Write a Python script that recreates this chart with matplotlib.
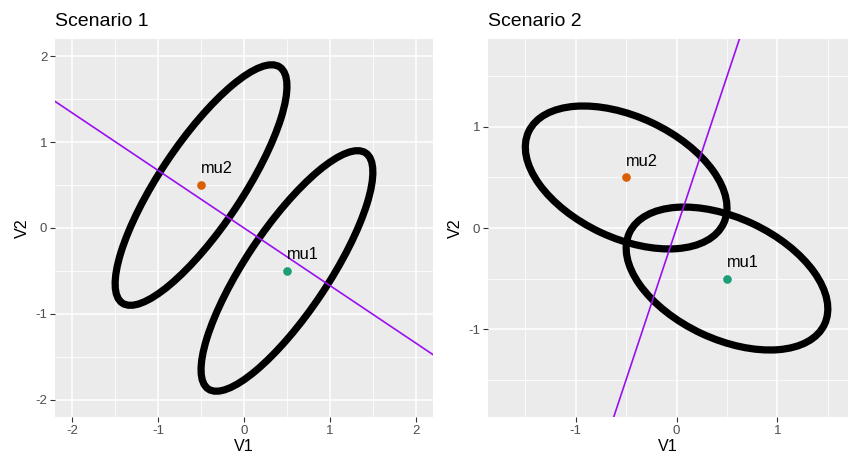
import matplotlib
matplotlib.use("Agg")
import matplotlib.pyplot as plt
import numpy as np
from matplotlib.patches import Ellipse

plt.rcParams["font.family"] = ["Liberation Sans", "DejaVu Sans"]
plt.rcParams["axes.unicode_minus"] = False

# data
titles = ["Scenario 1", "Scenario 2"]
mu1 = [0.5, -0.5]
mu2 = [-0.5, 0.5]
point_labels = ["mu1", "mu2"]
point_colors = ["#1B9E77", "#D95F02"]
# scaled covariance of the contour ellipse in each scenario
cov_s1 = [[1.0, 1.15], [1.15, 1.96]]
cov_s2 = [[1.0, -0.30], [-0.30, 0.50]]
line_slopes = [-0.67, 3.0]
line_intercepts = [0.0, 0.0]
xlims = [(-2.2, 2.2), (-1.87, 1.70)]
ylims = [(-2.2, 2.2), (-1.87, 1.87)]
major_ticks = [[-2, -1, 0, 1, 2], [-1, 0, 1]]
minor_ticks = [[-1.5, -0.5, 0.5, 1.5], [-1.5, -0.5, 0.5, 1.5]]

W, H = 848, 457
fig = plt.figure(figsize=(W / 100, H / 100), dpi=100)
panels = [
    fig.add_axes([55 / W, 40 / H, 378 / W, 378 / H]),
    fig.add_axes([488 / W, 40 / H, 360 / W, 378 / H]),
]

for i, ax in enumerate(panels):
    cov = np.array([cov_s1, cov_s2][i])
    ax.set_facecolor("#EBEBEB")
    for s in ax.spines.values():
        s.set_visible(False)
    ax.set_xlim(*xlims[i])
    ax.set_ylim(*ylims[i])
    ax.set_xticks(major_ticks[i])
    ax.set_yticks(major_ticks[i])
    ax.set_xticks(minor_ticks[i], minor=True)
    ax.set_yticks(minor_ticks[i], minor=True)
    ax.grid(which="major", color="white", lw=1.1)
    ax.grid(which="minor", color="white", lw=0.55)
    ax.set_axisbelow(True)
    ax.tick_params(which="major", length=3.5, width=0.8, color="#333333",
                   labelsize=9.5, labelcolor="#4D4D4D", pad=2)
    ax.tick_params(which="minor", length=0)
    ax.set_xlabel("V1", fontsize=11.6, labelpad=2)
    ax.set_ylabel("V2", fontsize=11.6, labelpad=4)
    ax.set_title(titles[i], loc="left", fontsize=14, pad=9)

    vals, vecs = np.linalg.eigh(cov)
    angle = np.degrees(np.arctan2(vecs[1, 1], vecs[0, 1]))
    for mu in (mu1, mu2):
        ax.add_patch(Ellipse(mu, 2 * np.sqrt(vals[1]), 2 * np.sqrt(vals[0]),
                             angle=angle, fill=False, ec="black", lw=5.2, zorder=2))

    ax.axline((0, line_intercepts[i]), slope=line_slopes[i], color="#9A10F0",
              lw=1.2, zorder=3)

    for mu, lab, col in zip((mu1, mu2), point_labels, point_colors):
        ax.plot(mu[0], mu[1], "o", color=col, ms=5.2, zorder=4)
        ax.annotate(lab, mu, xytext=(0, 8.5), textcoords="offset points",
                    ha="left", va="baseline", fontsize=11.8, zorder=5)

fig.savefig("out.png", dpi=100)
